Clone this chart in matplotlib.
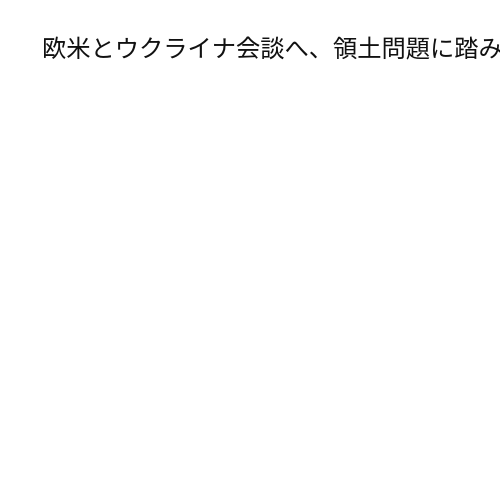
import matplotlib
matplotlib.use("Agg")
import matplotlib.pyplot as plt

plt.rcParams['font.family'] = ['Noto Sans CJK JP', 'DejaVu Sans']

title_text = "欧米とウクライナ会談へ、領土問題に踏み"

fig = plt.figure(figsize=(5, 5), dpi=100)
fig.patch.set_facecolor("white")

# タイトルのみ（左寄せ、右端ははみ出す）
fig.text(42 / 500, 1 - 50 / 500, title_text, fontsize=17.5,
         ha="left", va="center", color="#111111")

fig.savefig("out.png", dpi=100)
plt.close(fig)
